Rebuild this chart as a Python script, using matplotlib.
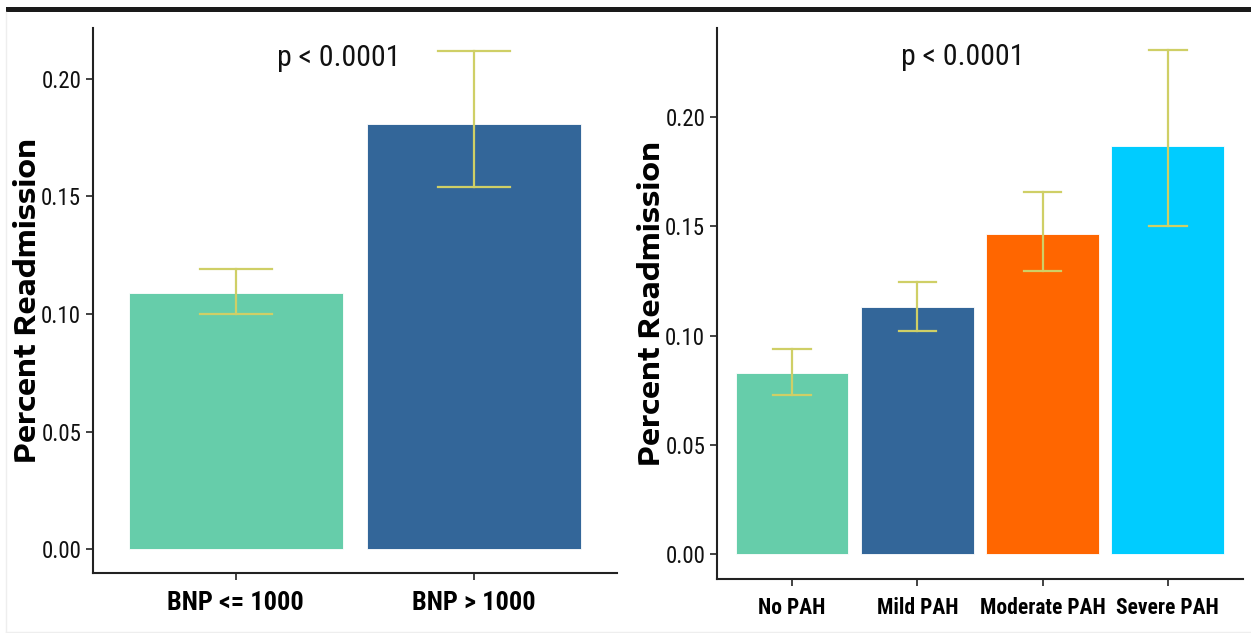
import matplotlib
matplotlib.use("Agg")
import matplotlib.pyplot as plt
from matplotlib.patches import Rectangle
from matplotlib.lines import Line2D

# 数据
bnp_groups = ["BNP <= 1000", "BNP > 1000"]
bnp_rate = [0.109, 0.181]
bnp_low = [0.100, 0.154]
bnp_high = [0.119, 0.212]
bnp_colors = ["#66CDAA", "#336699"]

pah_groups = ["No PAH", "Mild PAH", "Moderate PAH", "Severe PAH"]
pah_rate = [0.083, 0.113, 0.1465, 0.1867]
pah_low = [0.073, 0.102, 0.1295, 0.150]
pah_high = [0.094, 0.1245, 0.1657, 0.2307]
pah_colors = ["#66CDAA", "#336699", "#FF6600", "#00CCFF"]

yticks = [0.0, 0.05, 0.10, 0.15, 0.20]
ytick_labels = ["0.00", "0.05", "0.10", "0.15", "0.20"]
p_label = "p < 0.0001"

NARROW = ["Roboto Condensed", "DejaVu Sans"]
WIDE = ["Encode Sans Expanded", "Liberation Sans", "DejaVu Sans"]

err_color = "#CFCF66"
spine_color = "#222222"

fig = plt.figure(figsize=(12.51, 6.33), dpi=100)


def draw_panel(ax, groups, rate, low, high, colors, ylim, p_xy, xfs):
    x = list(range(1, len(groups) + 1))
    ax.bar(x, rate, width=0.9, color=colors, edgecolor="white", linewidth=0.6, zorder=2)
    # 误差线
    for xi, lo, hi in zip(x, low, high):
        ax.plot([xi, xi], [lo, hi], color=err_color, lw=1.6, zorder=3)
        ax.plot([xi - 0.15, xi + 0.15], [lo, lo], color=err_color, lw=1.6, zorder=3)
        ax.plot([xi - 0.15, xi + 0.15], [hi, hi], color=err_color, lw=1.6, zorder=3)
    ax.set_xlim(0.4, len(groups) + 0.6)
    ax.set_ylim(*ylim)
    ax.set_yticks(yticks)
    ax.set_yticklabels(ytick_labels, family=NARROW, fontsize=16.5, color="#111111")
    ax.set_xticks(x)
    ax.set_xticklabels(groups, family=NARROW, fontsize=xfs, fontweight="bold")
    for s in ["top", "right"]:
        ax.spines[s].set_visible(False)
    for s in ["left", "bottom"]:
        ax.spines[s].set_color(spine_color)
        ax.spines[s].set_linewidth(1.5)
    ax.tick_params(axis="both", length=5, width=1.2, color=spine_color, direction="out")
    ax.tick_params(axis="x", pad=8)
    ax.set_ylabel("Percent Readmission", family=WIDE, fontsize=20.5, fontweight="bold")
    ax.yaxis.set_label_coords(-0.097, 0.5)
    ax.text(p_xy[0], p_xy[1], p_label, family=NARROW, fontsize=21.5, color="#111111",
            ha="center", va="center")


ax1 = fig.add_axes([0.0743, 0.0948, 0.4189, 0.861])
draw_panel(ax1, bnp_groups, bnp_rate, bnp_low, bnp_high, bnp_colors,
           (-0.0102, 0.2217), (1.43, 0.209), 19)

ax2 = fig.add_axes([0.5731, 0.0853, 0.4205, 0.8705])
draw_panel(ax2, pah_groups, pah_rate, pah_low, pah_high, pah_colors,
           (-0.0114, 0.2407), (2.36, 0.2275), 15.5)

# 顶部黑条和浅灰边框
fig.add_artist(Rectangle((6 / 1251, 1 - 12 / 633), 1, 5 / 633, transform=fig.transFigure,
                         color="#1a1a1a", lw=0))
fig.add_artist(Line2D([6 / 1251, 6 / 1251], [1 - 12 / 633, 1 / 633], transform=fig.transFigure,
                      color="#eeeeee", lw=1))
fig.add_artist(Line2D([6 / 1251, 1], [1.5 / 633, 1.5 / 633], transform=fig.transFigure,
                      color="#eeeeee", lw=1))

fig.savefig("out.png", dpi=100)
